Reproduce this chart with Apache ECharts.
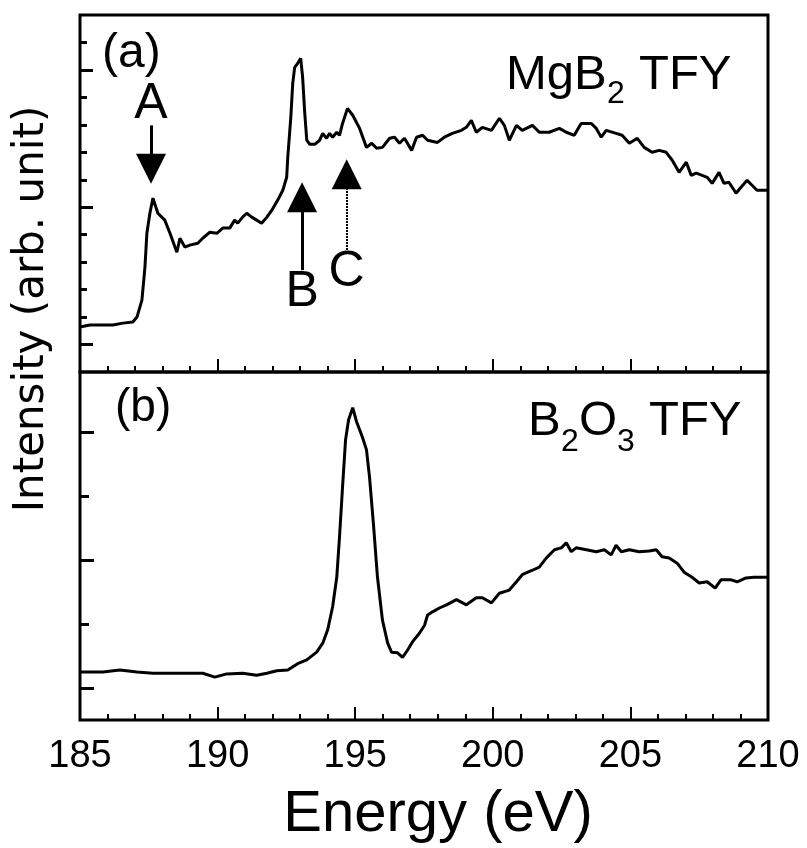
<!DOCTYPE html>
<html>
<head>
<meta charset="utf-8">
<script src="https://cdn.jsdelivr.net/npm/echarts@6/dist/echarts.min.js"></script>
<style>
  html, body { margin: 0; padding: 0; background: #fff; }
  #chart { width: 807px; height: 848px; }
</style>
</head>
<body>
<div id="chart"></div>
<script>
// (a) MgB2 TFY
const energyA = [185.00,185.36,185.83,186.20,186.56,186.92,187.07,187.25,187.36,187.43,187.54,187.65,187.83,188.08,188.27,188.45,188.52,188.63,188.81,188.99,189.28,189.46,189.72,189.97,190.19,190.44,190.62,190.73,190.91,191.06,191.24,191.42,191.60,191.79,191.97,192.18,192.37,192.51,192.55,192.66,192.73,192.80,192.91,193.02,193.09,193.16,193.24,193.35,193.53,193.71,193.82,193.96,194.07,194.18,194.33,194.43,194.54,194.72,194.91,195.16,195.41,195.60,195.78,195.99,196.25,196.43,196.61,196.79,197.05,197.23,197.45,197.63,197.99,198.24,198.53,198.86,199.04,199.22,199.40,199.62,199.95,200.24,200.42,200.60,200.86,201.07,201.44,201.69,202.05,202.42,202.67,202.96,203.21,203.58,203.76,203.94,204.12,204.48,204.70,204.96,205.25,205.50,205.79,206.05,206.30,206.52,206.77,207.03,207.21,207.39,207.61,207.79,207.97,208.22,208.40,208.58,208.84,209.02,209.24,209.42,209.60,210.00]
const intensityA = [1.64,1.71,1.71,1.71,1.78,1.82,2.00,2.62,3.82,5.05,5.78,6.33,5.78,5.53,5.05,4.55,4.36,4.87,4.55,4.62,4.69,4.87,5.09,5.05,5.24,5.24,5.53,5.42,5.64,5.78,5.64,5.53,5.42,5.64,5.89,6.25,6.62,7.09,7.82,9.27,10.51,11.09,11.24,11.42,10.73,9.53,8.44,8.29,8.29,8.44,8.69,8.51,8.69,8.55,8.73,8.62,9.05,9.60,9.35,8.87,8.18,8.33,8.15,8.18,8.51,8.55,8.33,8.51,8.07,8.55,8.62,8.44,8.36,8.55,8.69,8.80,8.91,9.16,8.73,8.91,8.80,9.24,8.98,8.44,8.98,8.80,8.98,8.73,8.73,8.87,8.73,8.62,9.05,9.05,8.87,8.55,8.80,8.69,8.62,8.33,8.51,8.18,8.00,8.07,8.00,7.71,7.27,7.64,7.16,7.24,7.16,7.09,6.87,7.27,6.87,6.91,6.51,6.73,6.98,6.80,6.62,6.62]

// (b) B2O3 TFY
const energyB = [185.00,185.83,186.45,187.07,187.65,188.27,188.88,189.46,189.90,190.33,190.91,191.42,191.79,192.15,192.55,192.91,193.24,193.60,193.82,194.00,194.18,194.33,194.43,194.54,194.65,194.76,194.91,195.05,195.27,195.41,195.52,195.67,195.81,195.99,196.18,196.32,196.54,196.72,196.90,197.08,197.34,197.52,197.63,197.81,198.06,198.32,198.68,199.04,199.40,199.62,199.95,200.24,200.60,200.86,201.07,201.44,201.69,201.94,202.24,202.49,202.67,202.85,203.03,203.40,203.76,204.05,204.30,204.48,204.67,204.96,205.32,205.68,205.94,206.15,206.41,206.70,206.95,207.24,207.50,207.79,208.08,208.29,208.66,208.88,209.20,209.49,210.00]
const intensityB = [0.75,0.75,0.78,0.75,0.73,0.73,0.73,0.73,0.67,0.72,0.73,0.70,0.73,0.77,0.78,0.88,0.94,1.06,1.20,1.41,1.77,2.23,2.86,3.64,4.38,4.69,4.88,4.66,4.41,4.22,3.80,3.02,2.23,1.56,1.20,1.06,1.05,0.98,1.09,1.22,1.36,1.48,1.64,1.69,1.75,1.80,1.88,1.80,1.91,1.91,1.83,1.98,2.03,2.16,2.27,2.34,2.39,2.53,2.66,2.69,2.77,2.63,2.69,2.66,2.63,2.66,2.58,2.73,2.63,2.66,2.63,2.64,2.66,2.55,2.53,2.45,2.31,2.23,2.14,2.16,2.06,2.19,2.19,2.16,2.22,2.23,2.23]

// arrows A, B, C in panel (a)
const arrowLabels = ['A', 'B', 'C']
const arrowEnergy = [187.58, 193.07, 194.69]
const arrowFrom = [8.98, 3.71, 4.44]
const arrowTo = [7.40, 6.36, 7.20]
const labelY = [9.75, 2.91, 3.64]

const xTicks = [185, 190, 195, 200, 205, 210]
const yTicksA = [1, 2, 3, 4, 5, 6, 7, 8, 9, 10, 11, 12]
const yMajorA = [1, 6, 11]
const yTicksB = [1.5, 3.5]
const yMajorB = [0.5, 2.5, 4.5]

const chart = echarts.init(document.getElementById('chart'))
const font = 'Liberation Sans, Arial, sans-serif'

const xAxisBase = (grid, showLabel) => ({
  gridIndex: grid,
  type: 'value',
  min: xTicks[0],
  max: xTicks[xTicks.length - 1],
  interval: 5,
  axisLine: { show: false },
  splitLine: { show: false },
  axisTick: { inside: true, length: 13, lineStyle: { color: '#000', width: 2 } },
  minorTick: { show: true, splitNumber: 5, length: 6, lineStyle: { color: '#000', width: 2 } },
  axisLabel: { show: showLabel, color: '#000', fontSize: 38, fontFamily: font, margin: 18 }
})

const yAxisBase = (grid, max, ticks, len) => ({
  gridIndex: grid,
  type: 'value',
  position: 'left',
  min: 0,
  max: max,
  axisLine: { show: false },
  splitLine: { show: false },
  axisLabel: { show: false },
  axisTick: { inside: true, length: len, customValues: ticks, lineStyle: { color: '#000', width: 3 } }
})

const option = {
  animation: false,
  backgroundColor: '#fff',
  grid: [
    { left: 80, right: 39, top: 15, height: 357, show: true, borderColor: '#000', borderWidth: 3 },
    { left: 80, right: 39, top: 372, height: 348, show: true, borderColor: '#000', borderWidth: 3 }
  ],
  xAxis: [xAxisBase(0, false), xAxisBase(1, true)],
  yAxis: [
    yAxisBase(0, 13, yTicksA, 7),
    yAxisBase(0, 13, yMajorA, 13),
    yAxisBase(1, 5.4375, yTicksB, 9),
    yAxisBase(1, 5.4375, yMajorB, 14)
  ],
  series: [
    {
      type: 'line',
      xAxisIndex: 0,
      yAxisIndex: 0,
      showSymbol: false,
      data: energyA.map((e, i) => [e, intensityA[i]]),
      lineStyle: { color: '#000', width: 3 },
      markLine: {
        silent: true,
        symbol: ['none', 'triangle'],
        symbolSize: 30,
        label: { show: false },
        lineStyle: { color: '#000', width: 3, type: 'solid' },
        data: arrowLabels.map((t, i) => [
          { coord: [arrowEnergy[i], arrowFrom[i]], lineStyle: t === 'C' ? { type: [2, 1], color: '#000', width: 2 } : {} },
          { coord: [arrowEnergy[i], arrowTo[i]] }
        ])
      },
      markPoint: {
        silent: true,
        symbol: 'circle',
        symbolSize: 1,
        itemStyle: { color: 'rgba(0,0,0,0)' },
        label: { show: true, position: 'inside', formatter: '{b}', color: '#000', fontSize: 50, fontFamily: font },
        data: arrowLabels.map((t, i) => ({ name: t, coord: [arrowEnergy[i], labelY[i]] }))
      }
    },
    {
      type: 'line',
      xAxisIndex: 1,
      yAxisIndex: 2,
      showSymbol: false,
      data: energyB.map((e, i) => [e, intensityB[i]]),
      lineStyle: { color: '#000', width: 3 }
    }
  ],
  graphic: [
    { type: 'text', left: 102, top: 30, style: { text: '(a)', font: '48px ' + font, fill: '#000' } },
    { type: 'text', left: 115, top: 385, style: { text: '(b)', font: '46px ' + font, fill: '#000' } },
    { type: 'text', x: 506, y: 75, style: { text: 'MgB', font: '49px ' + font, fill: '#000', verticalAlign: 'middle' } },
    { type: 'text', x: 607, y: 94, style: { text: '2', font: '32px ' + font, fill: '#000', verticalAlign: 'middle' } },
    { type: 'text', x: 639, y: 75, style: { text: 'TFY', font: '49px ' + font, fill: '#000', verticalAlign: 'middle' } },
    { type: 'text', x: 528, y: 421, style: { text: 'B', font: '49px ' + font, fill: '#000', verticalAlign: 'middle' } },
    { type: 'text', x: 561, y: 442, style: { text: '2', font: '32px ' + font, fill: '#000', verticalAlign: 'middle' } },
    { type: 'text', x: 579, y: 421, style: { text: 'O', font: '49px ' + font, fill: '#000', verticalAlign: 'middle' } },
    { type: 'text', x: 617, y: 442, style: { text: '3', font: '32px ' + font, fill: '#000', verticalAlign: 'middle' } },
    { type: 'text', x: 649, y: 421, style: { text: 'TFY', font: '49px ' + font, fill: '#000', verticalAlign: 'middle' } },
    { type: 'text', x: 438, y: 815, style: { text: 'Energy (eV)', font: '58px ' + font, fill: '#000', align: 'center', verticalAlign: 'middle' } },
    { type: 'text', x: 32, y: 309, rotation: Math.PI / 2, style: { text: 'Intensity (arb. unit)', font: '42px "DejaVu Sans"', fill: '#000', align: 'center', verticalAlign: 'middle' } }
  ]
}

chart.setOption(option)
</script>
</body>
</html>
